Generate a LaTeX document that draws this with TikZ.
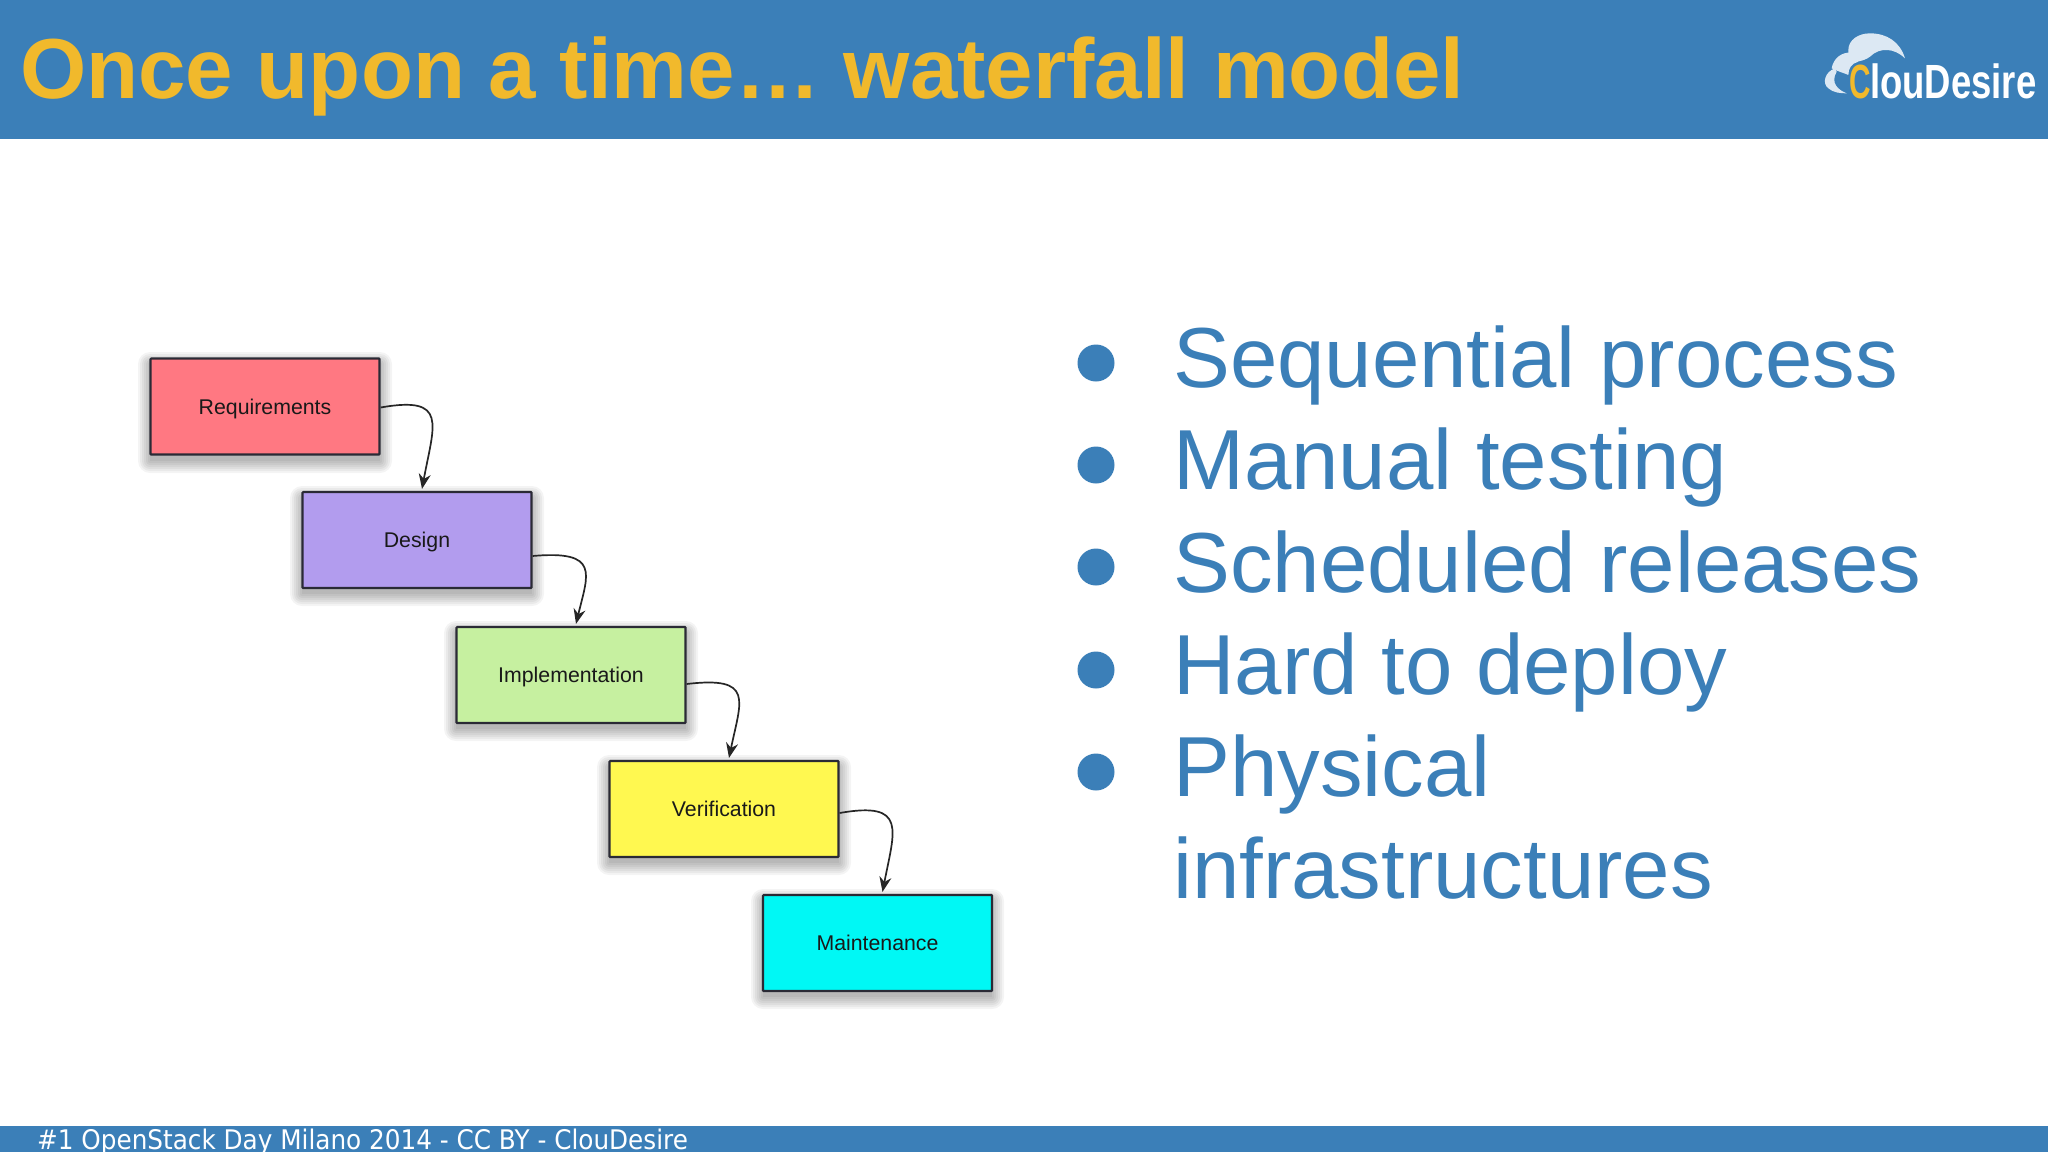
\documentclass[tikz,border=0pt]{standalone}
\usepackage{fontspec}
\setmainfont{Liberation Sans}
\newfontfamily\footfont{DejaVu Sans}
\definecolor{slideblue}{HTML}{3B7FB8}
\definecolor{titleyellow}{HTML}{F1B92C}
\definecolor{cloudc}{HTML}{DCE8F3}
\definecolor{boxline}{HTML}{2A2A35}
\tikzset{
  flowbox/.style={draw=boxline,line width=2.2pt,rounded corners=0.8pt,minimum width=229pt,minimum height=96pt,inner sep=0pt,text height=20pt,text depth=5pt,font=\fontsize{21.3pt}{24pt}\selectfont,text=black!90},
  arr/.style={draw=black!85,line width=1.7pt,-{Stealth[length=15pt,width=12pt]}},
  itemtext/.style={anchor=base west,inner sep=0pt,text=slideblue,font=\fontsize{85.2pt}{90pt}\selectfont},
  bulletdot/.style={circle,fill=slideblue,minimum size=37pt,inner sep=0pt},
  barfill/.style={fill=slideblue,draw=none},
}
\usetikzlibrary{arrows.meta,calc}
\newcommand{\softshadow}[4]{%
  \foreach \gr in {12,10,8,6,4,2,0}{%
    \fill[black,opacity=0.045,rounded corners=\gr pt] (#1-\gr,#2+6-\gr) rectangle (#3+\gr,#4+6+\gr);
  }}
\begin{document}
\begin{tikzpicture}[x=1pt,y=-1pt]
\useasboundingbox (0,0) rectangle (2048,1152);
\fill[white] (0,0) rectangle (2048,1152);
% bars
\fill[barfill] (0,0) rectangle (2048,138.5);
\fill[barfill] (0,1126) rectangle (2048,1152);
% title
\node[anchor=base west,inner sep=0pt,text=titleyellow,font=\bfseries\fontsize{85.2pt}{90pt}\selectfont] (title) at (20,98) {Once upon a time… waterfall model};
% footer
\node[anchor=base west,inner sep=0pt,text=white,xscale=0.915,font=\footfont\fontsize{27pt}{29pt}\selectfont] (foot) at (37,1149) {\#1 OpenStack Day Milano 2014 - CC BY - ClouDesire};
% logo
\begin{scope}[shift={(1780,0)},x=0.3333pt,y=-0.3333pt]
  \fill[cloudc] (205,150) .. controls (205,120) and (235,100) .. (270,100)
     .. controls (320,100) and (360,125) .. (375,175)
     .. controls (345,145) and (300,140) .. (270,170)
     .. controls (250,185) and (225,185) .. (205,190) -- cycle;
  \fill[cloudc] (155,205) .. controls (160,175) and (185,155) .. (215,158)
     -- (235,185) .. controls (215,190) and (205,205) .. (205,225)
     .. controls (195,220) and (175,215) .. (155,205) -- cycle;
  \fill[cloudc] (165,205) .. controls (135,215) and (125,250) .. (145,265)
     .. controls (160,278) and (180,280) .. (200,280)
     .. controls (175,270) and (150,250) .. (170,215) -- cycle;
\end{scope}
\node[anchor=base west,inner sep=0pt,text=titleyellow,xscale=0.62,font=\bfseries\fontsize{48pt}{50pt}\selectfont] (logoc) at (1849,98) {C};
\node[anchor=base west,inner sep=0pt,text=white,xscale=0.76,font=\bfseries\fontsize{48pt}{50pt}\selectfont] (logot) at (1870,98) {louDesire};
% shadows
\softshadow{150}{358}{380}{455}
\softshadow{302}{492}{532}{588}
\softshadow{456}{627}{686}{723}
\softshadow{609}{761}{839}{857}
\softshadow{763}{895}{992}{991}
% boxes
\node[flowbox,fill={rgb,255:red,255;green,120;blue,130}] (req) at (265,406.5) {Requirements};
\node[flowbox,fill={rgb,255:red,178;green,156;blue,238}] (des) at (417,540) {Design};
\node[flowbox,fill={rgb,255:red,198;green,240;blue,160}] (imp) at (571,675) {Implementation};
\node[flowbox,fill={rgb,255:red,255;green,248;blue,80}] (ver) at (724,809) {Verification};
\node[flowbox,fill={rgb,255:red,0;green,248;blue,245}] (mai) at (877.5,943) {Maintenance};
% connectors
\foreach \a/\b/\s/\ca/\cb in {req/des/1/-12/-65,des/imp/16/-6/-50,imp/ver/9/-8/-58,ver/mai/4/-12/-62}{
  \draw[arr] ($(\a.east)+(0,\s)$) .. controls +(68,\ca) and +(12,\cb) .. ($(\b.north)+(5,-2)$);
}
% bullets
\foreach \n/\y in {a/363,b/465,c/567,d/670,e/772}{
  \node[bulletdot] (dot\n) at (1096,\y) {};
}
\node[itemtext] (ia) at (1173,387) {Sequential process};
\node[itemtext] (ib) at (1173,489) {Manual testing};
\node[itemtext] (ic) at (1173,592) {Scheduled releases};
\node[itemtext] (id) at (1173,694) {Hard to deploy};
\node[itemtext] (ie) at (1173,796) {Physical};
\node[itemtext] (if) at (1173,898) {infrastructures};
\end{tikzpicture}
\end{document}
